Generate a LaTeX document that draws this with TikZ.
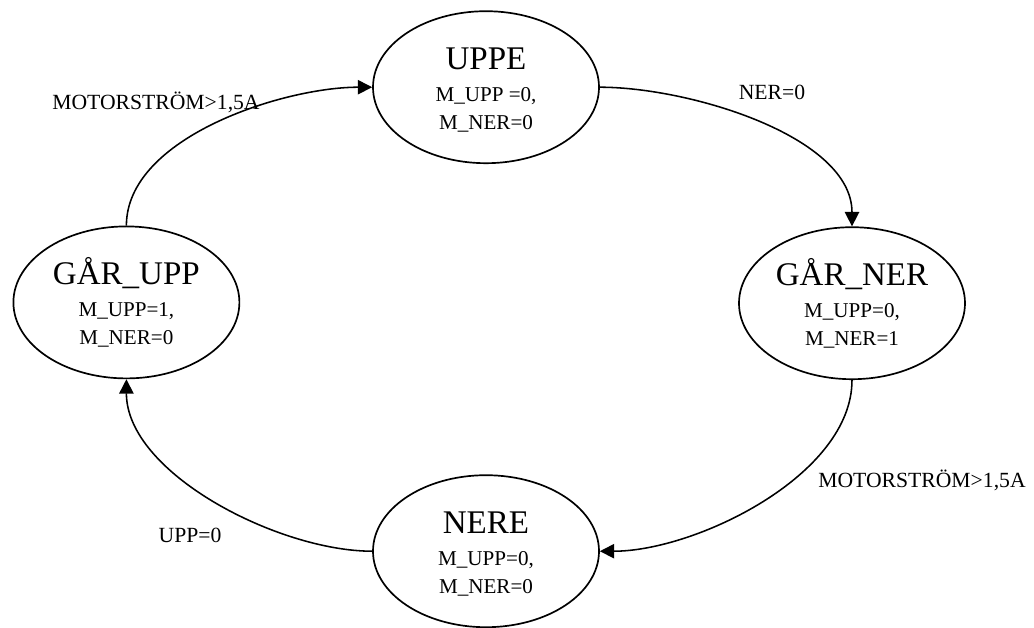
\documentclass[tikz,border=0pt]{standalone}
\usepackage{fontspec}
\setmainfont{Liberation Serif}
\usepackage{tikz}
\usetikzlibrary{arrows.meta, shapes.geometric}

\newcommand{\statename}[1]{{\fontsize{23.5}{26}\selectfont\vphantom{Å}#1}}

\begin{document}
\begin{tikzpicture}[>={Triangle[length=0.36cm, width=0.36cm]},
    state/.style={ellipse, draw, line width=1.2pt, inner sep=0pt,
      minimum width=5.65cm, minimum height=3.8cm, align=center,
      font=\fontsize{15}{20}\selectfont},
    trans/.style={->, line width=1.1pt, looseness=0.8},
    cond/.style={font=\fontsize{15.4}{18}\selectfont}]
  \useasboundingbox (0,0) rectangle (25.85,-15.7);

  % States
  \node[state] (uppe)   at (12.15,-2.18)  {\statename{UPPE}\\[3pt]M\_UPP =0,\\M\_NER=0};
  \node[state] (garner) at (21.3,-7.58)   {\statename{GÅR\_NER}\\[3pt]M\_UPP=0,\\M\_NER=1};
  \node[state] (nere)   at (12.15,-13.78) {\statename{NERE}\\[3pt]M\_UPP=0,\\M\_NER=0};
  \node[state] (garupp) at (3.16,-7.56)   {\statename{GÅR\_UPP}\\[3pt]M\_UPP=1,\\M\_NER=0};

  % Transitions
  \draw[trans] (uppe.east) to[out=0, in=90] (garner.north);
  \draw[trans] (garner.south) to[out=-90, in=0] (nere.east);
  \draw[trans] (nere.west) to[out=180, in=-90] (garupp.south);
  \draw[trans] (garupp.north) to[out=90, in=180] (uppe.west);

  % Conditions
  \node[cond] (nerzero)  at (19.3,-2.3)    {NER=0};
  \node[cond] (motnere)  at (23.05,-12.02) {MOTORSTRÖM>1,5A};
  \node[cond] (uppzero)  at (4.75,-13.38)  {UPP=0};
  \node[cond] (motuppe)  at (3.9,-2.55)    {MOTORSTRÖM>1,5A};
\end{tikzpicture}
\end{document}
